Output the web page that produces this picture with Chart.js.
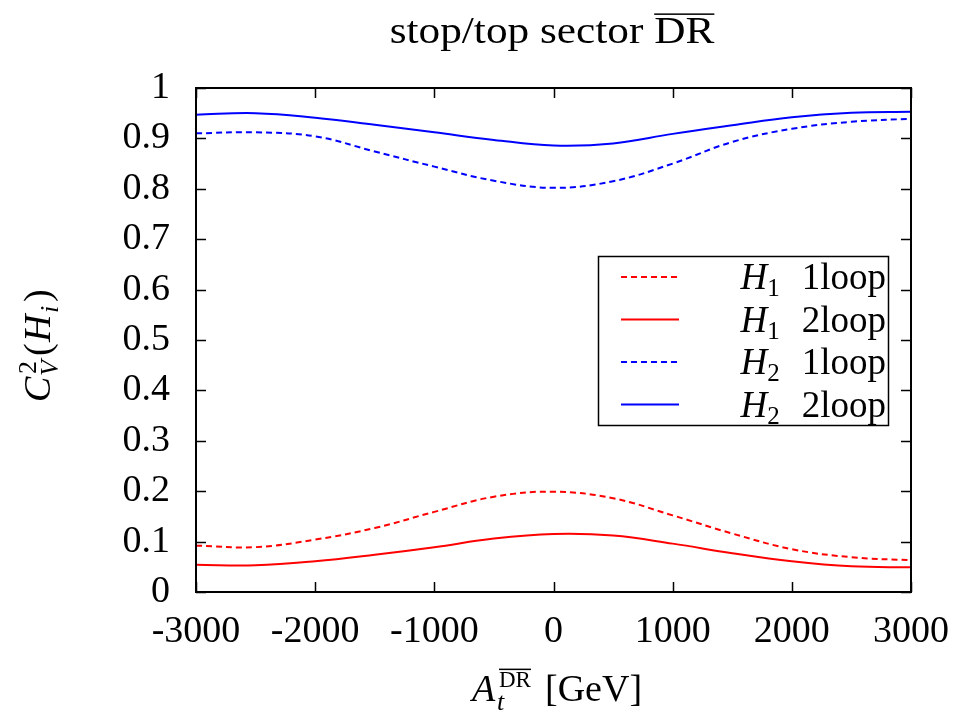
<!DOCTYPE html>
<html>
<head>
<meta charset="utf-8">
<script src="https://cdn.jsdelivr.net/npm/chart.js@4"></script>
<style>
  html, body { margin: 0; padding: 0; background: #fff; }
  #wrap { width: 960px; height: 714px; }
</style>
</head>
<body>
<div id="wrap"><canvas id="plot" width="960" height="714"></canvas></div>
<script>
// A_t values in GeV
var atValues = [-3000, -2500, -2000, -1500, -1000, -500, 0, 500, 1000, 1500, 2000, 2500, 3000];

// C_V^2
var h1OneLoop = [0.092, 0.089, 0.104, 0.127, 0.159, 0.189, 0.199, 0.186, 0.152, 0.116, 0.085, 0.069, 0.063];
var h1TwoLoop = [0.054, 0.053, 0.061, 0.074, 0.089, 0.106, 0.115, 0.112, 0.096, 0.077, 0.061, 0.051, 0.049];
var h2OneLoop = [0.910, 0.912, 0.904, 0.874, 0.844, 0.816, 0.802, 0.815, 0.850, 0.893, 0.919, 0.933, 0.939];
var h2TwoLoop = [0.947, 0.950, 0.941, 0.927, 0.912, 0.897, 0.886, 0.890, 0.909, 0.926, 0.942, 0.951, 0.953];

var xTicks = [-3000, -2000, -1000, 0, 1000, 2000, 3000];
var yTicks = [0, 0.1, 0.2, 0.3, 0.4, 0.5, 0.6, 0.7, 0.8, 0.9, 1];

var serif = '"Liberation Serif", "DejaVu Serif", serif';

function toPoints(ys) {
    return atValues.map(function (x, i) { return {x: x, y: ys[i]}; });
}

function series(label, sub, data, color, dashed) {
    return {
        label: label,
        sub: sub,
        data: toPoints(data),
        borderColor: color,
        backgroundColor: color,
        borderWidth: 2,
        borderDash: dashed ? [6, 4] : [],
        pointRadius: 0,
        fill: false,
        tension: 0.4
    };
}

// draws rich text pieces left to right, returns width
function richText(ctx, parts, x, y, measureOnly) {
    var cx = x;
    parts.forEach(function (p) {
        ctx.font = (p.italic ? 'italic ' : '') + p.size + 'px ' + serif;
        var w = ctx.measureText(p.t).width;
        if (!measureOnly) {
            ctx.fillText(p.t, cx, y + (p.dy || 0));
            if (p.over) {
                ctx.fillRect(cx, y + (p.dy || 0) - p.size * 0.8, w, 1.5);
            }
        }
        cx += w + (p.gap || 0);
    });
    return cx - x;
}

var decorPlugin = {
    id: 'decor',
    afterDraw: function (chart) {
        var ctx = chart.ctx;
        var a = chart.chartArea;
        var xs = chart.scales.x, ys = chart.scales.y;
        ctx.save();
        ctx.fillStyle = '#000';
        ctx.strokeStyle = '#000';
        ctx.textBaseline = 'alphabetic';

        // frame and inward ticks
        ctx.lineWidth = 2;
        ctx.strokeRect(a.left, a.top, a.right - a.left, a.bottom - a.top);
        ctx.lineWidth = 1.5;
        ctx.beginPath();
        xTicks.forEach(function (v) {
            var px = Math.round(xs.getPixelForValue(v)) + 0.5;
            ctx.moveTo(px, a.bottom); ctx.lineTo(px, a.bottom - 10);
            ctx.moveTo(px, a.top); ctx.lineTo(px, a.top + 10);
        });
        yTicks.forEach(function (v) {
            var py = Math.round(ys.getPixelForValue(v)) + 0.5;
            ctx.moveTo(a.left, py); ctx.lineTo(a.left + 10, py);
            ctx.moveTo(a.right, py); ctx.lineTo(a.right - 10, py);
        });
        ctx.stroke();

        // title, stretched a little to the width of the original typeface
        var title = [
            {t: 'stop/top sector ', size: 37},
            {t: 'DR', size: 37, over: true}
        ];
        var sx = 1.17;
        var tw = richText(ctx, title, 0, 0, true) * sx;
        ctx.save();
        ctx.translate(552 - tw / 2, 43);
        ctx.scale(sx, 1);
        richText(ctx, title, 0, 0);
        ctx.restore();

        // x axis title
        var x0 = 472, xb = 701;
        ctx.font = 'italic 38px ' + serif;
        ctx.fillText('A', x0, xb);
        richText(ctx, [{t: 'DR', size: 23, over: true}], x0 + 27, xb - 14);
        ctx.font = 'italic 26px ' + serif;
        ctx.fillText('t', x0 + 25, xb + 9);
        ctx.font = '38px ' + serif;
        ctx.fillText('[GeV]', x0 + 73, xb);

        // y axis title (rotated)
        ctx.save();
        ctx.translate(50, 402);
        ctx.rotate(-Math.PI / 2);
        ctx.font = 'italic 38px ' + serif;
        ctx.fillText('C', 0, 0);
        ctx.font = '26px ' + serif;
        ctx.fillText('2', 28, -14);
        ctx.font = 'italic 26px ' + serif;
        ctx.fillText('V', 26, 8);
        ctx.font = '38px ' + serif;
        ctx.fillText('(', 46, 0);
        ctx.font = 'italic 38px ' + serif;
        ctx.fillText('H', 60, 0);
        ctx.font = 'italic 26px ' + serif;
        ctx.fillText('i', 89, 8);
        ctx.font = '38px ' + serif;
        ctx.fillText(')', 100, 0);
        ctx.restore();

        // legend box
        var lx = 598, ly = 256, lw = 290, lh = 169;
        ctx.lineWidth = 1.5;
        ctx.strokeRect(lx + 0.5, ly + 0.5, lw, lh);
        chart.data.datasets.forEach(function (ds, i) {
            var rowY = 277 + i * 42.5;
            ctx.strokeStyle = ds.borderColor;
            ctx.lineWidth = 2;
            ctx.setLineDash(ds.borderDash);
            ctx.beginPath();
            ctx.moveTo(621, rowY); ctx.lineTo(679, rowY);
            ctx.stroke();
            ctx.setLineDash([]);
            ctx.fillStyle = '#000';
            var parts = [
                {t: 'H', size: 37, italic: true},
                {t: ds.sub, size: 25, dy: 7, gap: 22},
                {t: ds.label, size: 37}
            ];
            var w = richText(ctx, parts, 0, 0, true);
            richText(ctx, parts, 886 - w, rowY + 12);
        });
        ctx.restore();
    }
};

var ctx = document.getElementById('plot');
var myChart = new Chart(ctx, {
    type: 'line',
    data: {
        datasets: [
            series('1loop', '1', h1OneLoop, '#ff0000', true),
            series('2loop', '1', h1TwoLoop, '#ff0000', false),
            series('1loop', '2', h2OneLoop, '#0000ff', true),
            series('2loop', '2', h2TwoLoop, '#0000ff', false)
        ]
    },
    options: {
        responsive: false,
        animation: false,
        layout: {padding: {top: 88, right: 49, left: 0, bottom: 0}},
        plugins: {
            legend: {display: false},
            title: {display: false},
            tooltip: {enabled: false}
        },
        scales: {
            x: {
                type: 'linear',
                min: -3000,
                max: 3000,
                afterFit: function (s) {
                    s.height = 122;
                    s.paddingLeft = 0;
                    s.paddingRight = 0;
                },
                afterBuildTicks: function (s) { s.ticks = xTicks.map(function (v) { return {value: v}; }); },
                grid: {display: false, drawTicks: false},
                border: {display: false},
                ticks: {
                    color: '#000',
                    padding: 17,
                    maxRotation: 0,
                    font: {family: serif, size: 38},
                    callback: function (v) { return String(v); }
                }
            },
            y: {
                type: 'linear',
                min: 0,
                max: 1,
                afterFit: function (s) {
                    s.width = 196;
                    s.paddingTop = 0;
                    s.paddingBottom = 0;
                },
                afterBuildTicks: function (s) { s.ticks = yTicks.map(function (v) { return {value: v}; }); },
                grid: {display: false, drawTicks: false},
                border: {display: false},
                ticks: {
                    color: '#000',
                    padding: 26,
                    font: {family: serif, size: 38},
                    callback: function (v) { return String(Math.round(v * 10) / 10); }
                }
            }
        }
    },
    plugins: [decorPlugin]
});
</script>
</body>
</html>
